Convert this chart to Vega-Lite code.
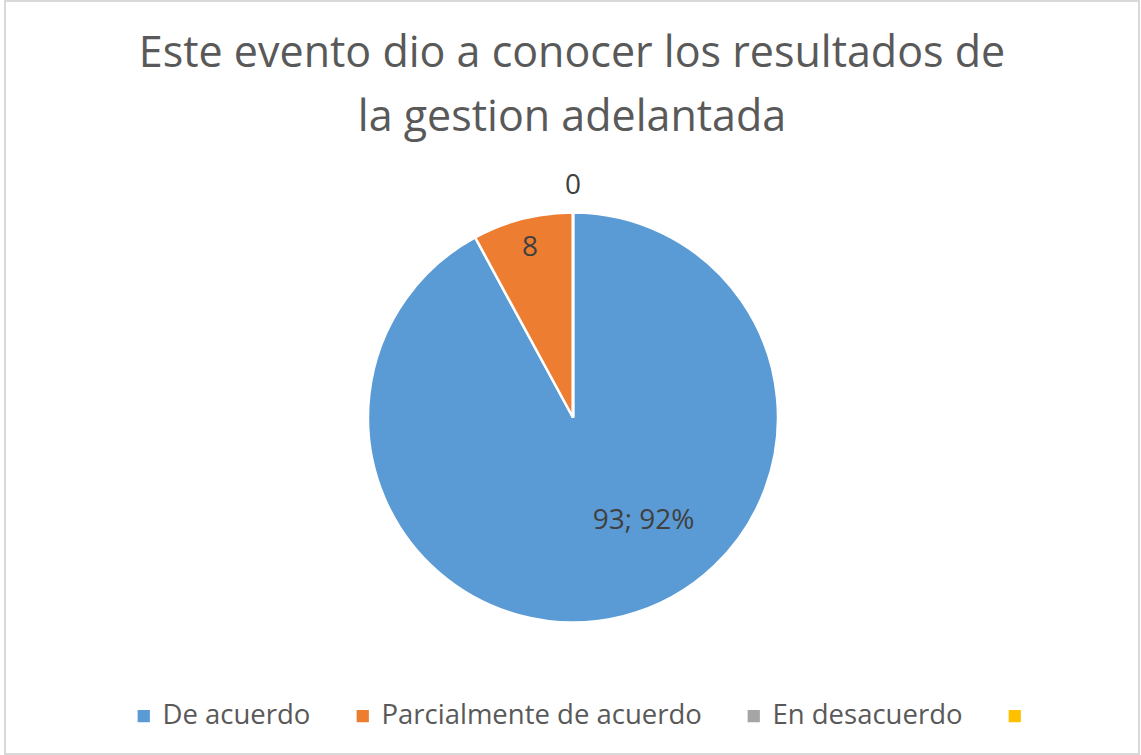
{
  "$schema": "https://vega.github.io/schema/vega-lite/v6.json",
  "width": 1141,
  "height": 755,
  "autosize": {"type": "fit", "contains": "padding"},
  "padding": {"left": 5, "top": 1, "right": 2, "bottom": 1},
  "background": "white",
  "view": {"stroke": "#d9d9d9", "strokeWidth": 2, "fill": "white"},
  "config": {
    "view": {"stroke": "#d9d9d9", "strokeWidth": 2},
    "font": "Open Sans"
  },
  "title": {
    "text": ["Este evento dio a conocer los resultados de", "la gestion adelantada"],
    "fontSize": 43,
    "fontWeight": "normal",
    "font": "Open Sans",
    "color": "#595959",
    "lineHeight": 64,
    "anchor": "middle",
    "offset": -139
  },
  "data": {
    "values": [
      {"cat": "De acuerdo", "value": 93, "label": "93; 92%", "ord": 1},
      {"cat": "Parcialmente de acuerdo", "value": 8, "label": "8", "ord": 2},
      {"cat": "En desacuerdo", "value": 0, "label": "0", "ord": 3},
      {"cat": " ", "value": 0, "label": "", "ord": 4}
    ]
  },
  "encoding": {
    "theta": {"field": "value", "type": "quantitative", "stack": true},
    "order": {"field": "ord", "type": "quantitative"}
  },
  "layer": [
    {
      "mark": {"type": "arc", "outerRadius": 205, "stroke": "white", "strokeWidth": 2.5, "y": {"expr": "height/2 + 40"}, "x": {"expr": "width/2 + 1"}},
      "encoding": {
        "color": {
          "field": "cat",
          "type": "nominal",
          "scale": {
            "domain": ["De acuerdo", "Parcialmente de acuerdo", "En desacuerdo", " "],
            "range": ["#5B9BD5", "#ED7D31", "#A5A5A5", "#FFC000"]
          },
          "legend": {
            "title": null,
            "orient": "none",
            "direction": "horizontal",
            "legendX": 125,
            "legendY": 701,
            "symbolType": "square",
            "symbolSize": 150,
            "symbolStrokeWidth": 0,
            "labelFontSize": 27.5,
            "labelFont": "Open Sans",
            "labelColor": "#595959",
            "labelOffset": 5,
            "labelLimit": 0,
            "columnPadding": 38,
            "padding": 0
          }
        }
      }
    },
    {
      "mark": {"type": "text", "radius": 124, "fontSize": 28, "color": "#404040", "dx": 40, "dy": -17, "y": {"expr": "height/2 + 40"}, "x": {"expr": "width/2 + 1"}},
      "encoding": {
        "detail": {"field": "cat", "type": "nominal"},
        "text": {"condition": {"test": "datum.cat === 'De acuerdo'", "field": "label"}, "value": ""}
      }
    },
    {
      "mark": {"type": "text", "radius": 175, "fontSize": 28, "color": "#404040", "y": {"expr": "height/2 + 40"}, "x": {"expr": "width/2 + 1"}},
      "encoding": {
        "detail": {"field": "cat", "type": "nominal"},
        "text": {"condition": {"test": "datum.cat === 'Parcialmente de acuerdo'", "field": "label"}, "value": ""}
      }
    },
    {
      "mark": {"type": "text", "radius": 232, "fontSize": 28, "color": "#404040", "y": {"expr": "height/2 + 40"}, "x": {"expr": "width/2 + 1"}},
      "encoding": {
        "detail": {"field": "cat", "type": "nominal"},
        "text": {"condition": {"test": "datum.cat === 'En desacuerdo'", "field": "label"}, "value": ""}
      }
    }
  ]
}
